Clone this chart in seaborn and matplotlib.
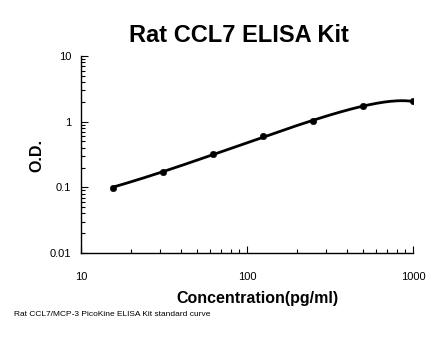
import matplotlib

matplotlib.use("Agg")

import numpy as np
import seaborn as sns
from matplotlib import pyplot as plt
from matplotlib.ticker import FixedLocator, LogLocator, NullFormatter

concentration = [15.6, 31.25, 62.5, 125, 250, 500, 1000]
optical_density = [0.098, 0.17, 0.322, 0.60, 1.02, 1.74, 2.03]
x_ticks = [10, 100, 1000]
x_tick_labels = ["10", "100", "1000"]
y_ticks = [0.01, 0.1, 1, 10]
y_tick_labels = ["0.01", "0.1", "1", "10"]

sns.set_style("ticks")
plt.rcParams["font.family"] = ["Liberation Sans", "DejaVu Sans"]
plt.rcParams["text.color"] = "black"
plt.rcParams["axes.labelcolor"] = "black"

# standard curve: 2nd order polynomial trendline on the raw values
coef = np.polyfit(concentration, optical_density, 2)
fit_x = np.logspace(np.log10(concentration[0]), np.log10(concentration[-1]), 200)
fit_y = np.polyval(coef, fit_x)

fig = plt.figure(figsize=(4.46, 3.56), dpi=100)
ax = fig.add_axes([81 / 446, 1 - 253 / 356, 332 / 446, 197 / 356])

sns.lineplot(x=fit_x, y=fit_y, ax=ax, color="black", linewidth=2.0)
sns.scatterplot(x=concentration, y=optical_density, ax=ax, color="black",
                s=22, edgecolor="black", zorder=3)

ax.set_xscale("log")
ax.set_yscale("log")
ax.set_xlim(10, 1000)
ax.set_ylim(0.01, 10)
ax.xaxis.set_major_locator(FixedLocator(x_ticks))
ax.set_xticklabels(x_tick_labels)
ax.yaxis.set_major_locator(FixedLocator(y_ticks))
ax.set_yticklabels(y_tick_labels)
ax.xaxis.set_minor_locator(LogLocator(base=10, subs=range(2, 10)))
ax.yaxis.set_minor_locator(LogLocator(base=10, subs=range(2, 10)))
ax.xaxis.set_minor_formatter(NullFormatter())
ax.yaxis.set_minor_formatter(NullFormatter())
ax.tick_params(which="both", direction="in", width=0.8, colors="black",
               labelsize=8)
ax.tick_params(axis="y", which="major", pad=7)
ax.tick_params(axis="x", which="major", pad=14)
ax.tick_params(which="major", length=5)
ax.tick_params(which="minor", length=3)

for side in ["top", "right"]:
    ax.spines[side].set_visible(False)
for side in ["left", "bottom"]:
    ax.spines[side].set_linewidth(1.0)
    ax.spines[side].set_color("black")

ax.set_xlabel("")
ax.set_ylabel("")
fig.text(239 / 446, 1 - 35 / 356, "Rat CCL7 ELISA Kit", ha="center", va="center",
         fontsize=17, fontweight="bold")
fig.text(257 / 446, 1 - 298 / 356, "Concentration(pg/ml)", ha="center", va="center",
         fontsize=11.5, fontweight="bold")
fig.text(37 / 446, 1 - 155 / 356, "O.D.", ha="center", va="center", rotation=90,
         fontsize=11.5, fontweight="bold")
fig.text(14 / 446, 1 - 314 / 356, "Rat CCL7/MCP-3 PicoKine ELISA Kit standard curve",
         ha="left", va="center", fontsize=6)

fig.savefig("out.png", dpi=100)
